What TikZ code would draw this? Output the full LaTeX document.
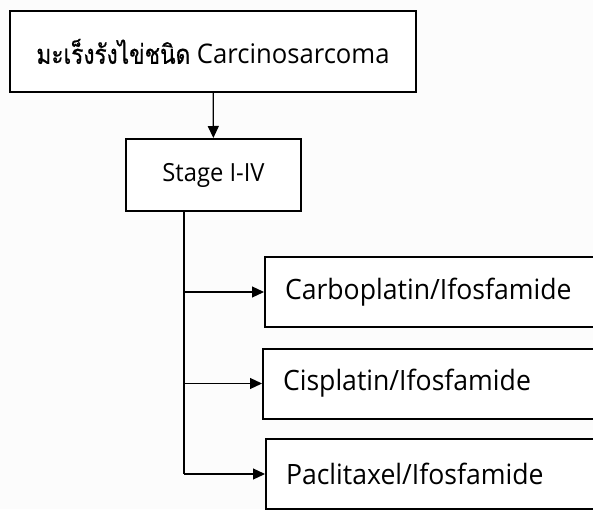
\documentclass[tikz,border=0pt]{standalone}
\usepackage{fontspec}
\setmainfont[FakeStretch=0.95]{Open Sans}
\newfontfamily\thaifont[Script=Thai,Scale=1.0,FakeStretch=0.84,FakeBold=0.6]{Loma}
\usetikzlibrary{arrows.meta}
\begin{document}
\begin{tikzpicture}[x=1pt,y=1pt,
  box/.style={draw=black, line width=2pt, fill=white, inner sep=0pt},
  conn/.style={draw=black, line width=1.2pt},
  arr/.style={conn, -{Triangle[length=12pt,width=11pt]}},
  drug/.style={box, anchor=west, minimum height=70pt, text width=330pt,
    align=left, inner xsep=20pt, font=\fontsize{28}{32}\selectfont}]
\useasboundingbox (0,0) rectangle (593,509);
\fill[gray!2] (0,0) rectangle (593,509);
\clip (0,0) rectangle (593,509);
% title and stage boxes
\node[box, minimum width=406pt, minimum height=81pt,
  font=\fontsize{27}{32}\selectfont] (title) at (213,457.5)
  {{\thaifont มะเร็งรังไข่ชนิด} Carcinosarcoma};
\node[box, minimum width=175pt, minimum height=72pt,
  font=\fontsize{25}{30}\selectfont] (stage) at (213.5,334) {Stage I-IV};
% treatment boxes
\node[drug] (d1) at (264,217) {Carboplatin/Ifosfamide};
\node[drug] (d2) at (262,125.5) {Cisplatin/Ifosfamide};
\node[drug] (d3) at (265,35) {Paclitaxel/Ifosfamide};
% connectors
\draw[arr] (title) -- (stage);
\coordinate (trunk) at (184,0);
\draw[conn] (stage.south -| trunk) -- (d3.west -| trunk);
\draw[arr] (d1.west -| trunk) -- (d1.west);
\draw[arr] (d2.west -| trunk) -- (d2.west);
\draw[arr] (d3.west -| trunk) -- (d3.west);
\end{tikzpicture}
\end{document}
